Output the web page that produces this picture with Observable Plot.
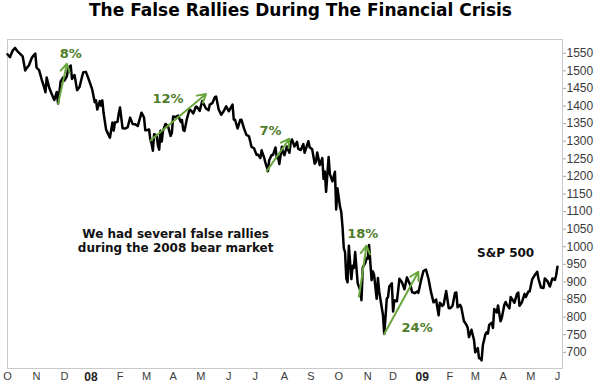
<!DOCTYPE html>
<html><head><meta charset="utf-8">
<script src="https://cdn.jsdelivr.net/npm/d3@7"></script>
<script src="https://cdn.jsdelivr.net/npm/@observablehq/plot@0.6"></script>
<style>
body{margin:0;background:#fff;width:601px;height:390px;overflow:hidden}
#title{height:30px;line-height:29px;text-align:center;font:bold 17px "DejaVu Sans",Verdana,sans-serif;color:#000}
</style></head><body>
<div id="title">The False Rallies During The Financial Crisis</div>
<div id="chart"></div>
<script>
// S&P 500 closes, Oct 2007 – Jun 2009
const dates = [
"2007-10-01","2007-10-03","2007-10-05","2007-10-09","2007-10-11","2007-10-15","2007-10-17","2007-10-19","2007-10-22","2007-10-24","2007-10-26","2007-10-29","2007-10-31",
"2007-11-01","2007-11-05","2007-11-07","2007-11-09","2007-11-12","2007-11-13","2007-11-15","2007-11-19","2007-11-21","2007-11-23","2007-11-26","2007-11-28","2007-11-30",
"2007-12-03","2007-12-05","2007-12-06","2007-12-10","2007-12-11","2007-12-13","2007-12-14","2007-12-17","2007-12-19","2007-12-21","2007-12-24","2007-12-26","2007-12-28","2007-12-31",
"2008-01-02","2008-01-04","2008-01-07","2008-01-08","2008-01-10","2008-01-11","2008-01-14","2008-01-15","2008-01-17","2008-01-18","2008-01-22","2008-01-24","2008-01-25","2008-01-28","2008-01-30","2008-01-31",
"2008-02-01","2008-02-05","2008-02-07","2008-02-11","2008-02-13","2008-02-15","2008-02-19","2008-02-21","2008-02-26","2008-02-28","2008-02-29",
"2008-03-03","2008-03-05","2008-03-06","2008-03-07","2008-03-10","2008-03-11","2008-03-13","2008-03-14","2008-03-17","2008-03-18","2008-03-19","2008-03-20","2008-03-24","2008-03-26","2008-03-28","2008-03-31",
"2008-04-01","2008-04-03","2008-04-07","2008-04-09","2008-04-10","2008-04-11","2008-04-14","2008-04-16","2008-04-18","2008-04-21","2008-04-23","2008-04-25","2008-04-28","2008-04-30",
"2008-05-02","2008-05-05","2008-05-07","2008-05-09","2008-05-12","2008-05-14","2008-05-16","2008-05-19","2008-05-21","2008-05-23","2008-05-27","2008-05-29",
"2008-06-02","2008-06-05","2008-06-06","2008-06-09","2008-06-11","2008-06-13","2008-06-16","2008-06-18","2008-06-20","2008-06-24","2008-06-26","2008-06-30",
"2008-07-02","2008-07-03","2008-07-07","2008-07-08","2008-07-10","2008-07-11","2008-07-14","2008-07-15","2008-07-16","2008-07-18","2008-07-21","2008-07-23","2008-07-24","2008-07-25","2008-07-28","2008-07-30","2008-07-31",
"2008-08-01","2008-08-05","2008-08-07","2008-08-08","2008-08-11","2008-08-13","2008-08-15","2008-08-18","2008-08-20","2008-08-22","2008-08-25","2008-08-28","2008-08-29",
"2008-09-02","2008-09-04","2008-09-05","2008-09-08","2008-09-10","2008-09-12","2008-09-15","2008-09-16","2008-09-17","2008-09-19","2008-09-22","2008-09-24","2008-09-26","2008-09-29","2008-09-30",
"2008-10-02","2008-10-03","2008-10-06","2008-10-07","2008-10-08","2008-10-09","2008-10-10","2008-10-13","2008-10-15","2008-10-16","2008-10-17","2008-10-20","2008-10-22","2008-10-24","2008-10-27","2008-10-28","2008-10-30","2008-10-31",
"2008-11-03","2008-11-04","2008-11-06","2008-11-07","2008-11-10","2008-11-12","2008-11-13","2008-11-14","2008-11-17","2008-11-19","2008-11-20","2008-11-21","2008-11-24","2008-11-25","2008-11-26","2008-11-28",
"2008-12-01","2008-12-02","2008-12-04","2008-12-05","2008-12-08","2008-12-10","2008-12-12","2008-12-16","2008-12-17","2008-12-19","2008-12-22","2008-12-24","2008-12-26","2008-12-29","2008-12-31",
"2009-01-02","2009-01-06","2009-01-08","2009-01-09","2009-01-12","2009-01-14","2009-01-16","2009-01-20","2009-01-21","2009-01-23","2009-01-26","2009-01-28","2009-01-30",
"2009-02-02","2009-02-04","2009-02-06","2009-02-09","2009-02-10","2009-02-12","2009-02-13","2009-02-17","2009-02-19","2009-02-20","2009-02-23","2009-02-25","2009-02-27",
"2009-03-02","2009-03-04","2009-03-05","2009-03-06","2009-03-09","2009-03-10","2009-03-12","2009-03-13","2009-03-16","2009-03-17","2009-03-19","2009-03-20","2009-03-23","2009-03-25","2009-03-26","2009-03-30","2009-03-31",
"2009-04-02","2009-04-03","2009-04-06","2009-04-08","2009-04-09","2009-04-14","2009-04-16","2009-04-17","2009-04-20","2009-04-22","2009-04-24","2009-04-27","2009-04-29","2009-04-30",
"2009-05-04","2009-05-06","2009-05-08","2009-05-11","2009-05-13","2009-05-15","2009-05-18","2009-05-20","2009-05-22","2009-05-26","2009-05-28","2009-05-29","2009-06-01"
];
const closes = [
1547,1539,1557,1565,1555,1548,1541,1501,1507,1516,1535,1541,1549,
1509,1502,1476,1453,1439,1481,1452,1434,1417,1440,1407,1469,1481,
1472,1485,1507,1515,1477,1488,1468,1445,1454,1484,1496,1497,1478,1468,
1447,1411,1416,1390,1414,1401,1416,1380,1333,1325,1310,1353,1330,1353,1355,1378,
1396,1337,1336,1339,1367,1349,1348,1343,1381,1367,1331,
1331,1333,1304,1293,1273,1320,1316,1288,1276,1330,1299,1330,1349,1342,1315,1323,
1370,1369,1373,1355,1360,1332,1329,1365,1390,1388,1379,1398,1397,1386,
1414,1407,1393,1388,1404,1408,1425,1427,1391,1375,1385,1399,
1385,1404,1361,1361,1336,1360,1361,1337,1318,1314,1284,1280,
1261,1262,1252,1274,1253,1239,1228,1215,1246,1261,1261,1282,1252,1257,1235,1284,1267,
1260,1285,1267,1296,1305,1285,1298,1278,1275,1292,1267,1300,1283,
1277,1236,1242,1268,1232,1252,1193,1214,1156,1255,1207,1186,1213,1106,1166,
1114,1099,1056,996,985,910,899,1003,908,946,940,985,896,876,848,941,954,968,
966,1005,905,930,919,852,911,873,850,806,752,800,852,857,887,896,
816,848,845,876,909,899,879,913,904,888,871,868,873,869,903,
931,935,909,890,871,842,850,805,841,832,836,874,826,
825,832,869,870,828,835,827,789,778,770,743,764,735,
700,712,683,683,677,720,751,757,753,778,784,769,823,813,833,788,798,
835,843,835,825,857,841,866,870,832,843,866,857,873,873,
907,919,929,909,884,883,910,903,887,910,906,919,943
];
// month ticks
const monthStarts = ["2007-10-01","2007-11-01","2007-12-01","2008-01-01","2008-02-01","2008-03-01","2008-04-01","2008-05-01","2008-06-01","2008-07-01","2008-08-01","2008-09-01","2008-10-01","2008-11-01","2008-12-01","2009-01-01","2009-02-01","2009-03-01","2009-04-01","2009-05-01","2009-06-01"];
const monthLabels = ["O","N","D","08","F","M","A","M","J","J","A","S","O","N","D","09","F","M","A","M","J"];
const yTicks = [700,750,800,850,900,950,1000,1050,1100,1150,1200,1250,1300,1350,1400,1450,1500,1550];
// false rallies
const rallyStart = ["2007-11-26","2008-03-06","2008-07-14","2008-10-23","2008-11-20"];
const rallyStartLevel = [1406,1302,1215,858,752];
const rallyEnd = ["2007-12-05","2008-05-07","2008-08-07","2008-10-31","2008-12-29"];
const rallyEndLevel = [1520,1434,1307,1003,929];
const rallyLabel = ["8%","12%","7%","18%","24%"];
const rallyLabelDate = ["2007-12-10","2008-03-26","2008-07-17","2008-10-28","2008-12-26"];
const rallyLabelLevel = [1548,1420,1330,1038,769];
// notes
const noteText = ["We had several false rallies\nduring the 2008 bear market","S&P 500"];
const noteDate = ["2008-04-03","2009-04-03"];
const noteLevel = [1017,984];

// trading-week index (weekdays since 2007-10-01, a Monday)
const origin = Date.UTC(2007,9,1);
function wd(s){
  const days = Math.round((Date.parse(s+"T00:00:00Z") - origin)/864e5);
  let n = 0;
  for (let i = 0; i < days; i++){ const dow = (1+i)%7; if (dow !== 0 && dow !== 6) n++; }
  return n;
}
const series = dates.map((d,i)=>({x: wd(d), y: closes[i]}));
const tickIdx = monthStarts.map(wd);
const labelOf = new Map(tickIdx.map((v,i)=>[v, monthLabels[i]]));
const isYear = monthLabels.map(l=>/^\d/.test(l));
const ri = rallyLabel.map((_,i)=>i);
const ni = noteText.map((_,i)=>i);

const chart = Plot.plot({
  width: 601, height: 360,
  marginTop: 9, marginBottom: 22, marginLeft: 7, marginRight: 39,
  style: {fontFamily: "'Liberation Sans', Arial, sans-serif", background: "#fff", color: "#333"},
  x: {type: "linear", domain: [0, wd("2009-06-05")], label: null},
  y: {domain: [654, 1589], label: null},
  marks: [
    Plot.frame({stroke: "#c9c9c9"}),
    Plot.axisY(yTicks, {anchor: "right", label: null, tickSize: 3, tickPadding: 1, textAnchor: "start", fontSize: 12, stroke: "#aaa", fill: "#3a3a3a", tickFormat: d=>String(d)}),
    Plot.axisX(tickIdx.filter((v,i)=>!isYear[i]), {anchor: "bottom", label: null, tickSize: 0, tickPadding: 4, fontSize: 11, fill: "#3a3a3a", tickFormat: v=>labelOf.get(v)}),
    Plot.axisX(tickIdx.filter((v,i)=>isYear[i]), {anchor: "bottom", label: null, tickSize: 0, tickPadding: 4, fontSize: 12, fontWeight: "bold", fill: "#222", tickFormat: v=>labelOf.get(v)}),
    Plot.line(series, {x: "x", y: "y", stroke: "#000", strokeWidth: 2.5, strokeLinejoin: "round"}),
    Plot.arrow(ri, {x1: i=>wd(rallyStart[i]), y1: i=>rallyStartLevel[i], x2: i=>wd(rallyEnd[i]), y2: i=>rallyEndLevel[i], stroke: "#6aa63e", strokeWidth: 2, headLength: 7}),
    Plot.text(ri, {x: i=>wd(rallyLabelDate[i]), y: i=>rallyLabelLevel[i], text: i=>rallyLabel[i], fill: "#4f7d2a", fontSize: 13, fontWeight: "bold", fontFamily: "'DejaVu Sans', Verdana, sans-serif"}),
    Plot.text(ni, {x: i=>wd(noteDate[i]), y: i=>noteLevel[i], text: i=>noteText[i], fill: "#111", fontSize: 12, fontWeight: "bold", lineHeight: 1.15, fontFamily: "'DejaVu Sans', Verdana, sans-serif"})
  ]
});
document.getElementById("chart").appendChild(chart);
</script>
</body></html>
